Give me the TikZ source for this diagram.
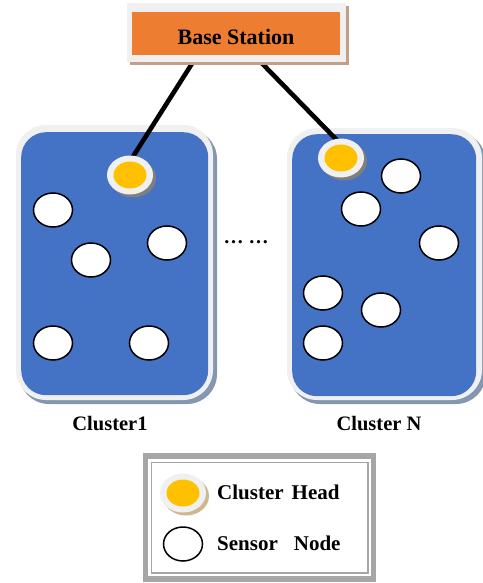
\documentclass[tikz,border=0pt]{standalone}
\usepackage{fontspec}
\setmainfont{Liberation Serif}
\usetikzlibrary{shapes.geometric,calc}
\pgfdeclarelayer{bg}
\pgfdeclarelayer{mid}
\pgfsetlayers{bg,mid,main}
\definecolor{bsorange}{HTML}{ED7D31}
\definecolor{bsshadow}{HTML}{C49E86}
\definecolor{framegray}{HTML}{F0F0F0}
\definecolor{clblue}{HTML}{4472C4}
\definecolor{clshadow}{HTML}{8496B0}
\definecolor{headyellow}{HTML}{FFC000}
\definecolor{headshadow}{HTML}{7F7F7F}
\definecolor{legshadow}{HTML}{CDB98E}
\definecolor{leggray}{HTML}{A6A6A6}
\tikzset{
  sensor/.style={ellipse, draw=black, line width=1.5pt, fill=white,
    minimum width=39pt, minimum height=34pt, inner sep=0pt},
  headcore/.style={ellipse, fill=headyellow, minimum width=33pt,
    minimum height=27pt, inner sep=0pt},
  link/.style={line width=4.6pt, black},
  lbl/.style={font=\fontsize{20.5}{24}\selectfont\bfseries, anchor=base, inner sep=0pt},
  leglbl/.style={font=\fontsize{21}{25}\selectfont\bfseries, anchor=base west, inner sep=0pt},
  cluster/.style={rectangle, rounded corners=25pt, fill=clblue, anchor=north west, inner sep=0pt}
}
\newcommand\clusterhead[3]{%
  \fill[#3] ($(#2)+(3,3)$) ellipse [x radius=23, y radius=19.5];
  \fill[framegray] (#2) ellipse [x radius=23, y radius=19.5];
  \node[headcore] (#1) at (#2) {};
}
\begin{document}
\begin{tikzpicture}[x=1pt,y=-1pt]
\useasboundingbox (0,0) rectangle (482,583);

% clusters
\begin{pgfonlayer}{bg}
\fill[white] (0,0) rectangle (482,583);
\fill[clshadow, rounded corners=30] (19,129) rectangle (217,404);
\fill[framegray, rounded corners=30] (16,125) rectangle (213,400);
\node[cluster, minimum width=187pt, minimum height=263pt] (c1) at (21,132) {};
\fill[clshadow, rounded corners=30] (290,132) rectangle (486,404);
\fill[framegray, rounded corners=30] (287,128) rectangle (482,400);
\node[cluster, minimum width=184pt, minimum height=262pt] (cN) at (292,134) {};
\end{pgfonlayer}

% base station
\fill[bsshadow] (130,6) rectangle (349,65);
\fill[framegray] (127,3) rectangle (346,62);
\node[fill=bsorange, minimum width=208pt, minimum height=43pt, inner sep=0pt,
  anchor=north west] (bs) at (132,12) {};
\node[font=\fontsize{22}{26}\selectfont\bfseries, anchor=base, inner sep=0pt]
  (bstext) at (236,45) {Base Station};

% cluster heads
\clusterhead{ch1}{130,175}{headshadow}
\clusterhead{chN}{341,158}{headshadow}

% links
\begin{pgfonlayer}{mid}
\draw[link] ($(bs.south)+(-39,0)$) -- (ch1.north);
\draw[link] ($(bs.south)+(18,0)$) -- (chN.north);
\end{pgfonlayer}

% sensors cluster 1
\node[sensor] (s11) at (53,210) {};
\node[sensor] (s12) at (91,260) {};
\node[sensor] (s13) at (167,243) {};
\node[sensor] (s14) at (53,343) {};
\node[sensor] (s15) at (149,343) {};

% sensors cluster N
\node[sensor] (sN1) at (401,176) {};
\node[sensor] (sN2) at (361,209) {};
\node[sensor] (sN3) at (439,243) {};
\node[sensor] (sN4) at (323,293) {};
\node[sensor] (sN5) at (381,310) {};
\node[sensor] (sN6) at (323,343) {};

% dots
\node[font=\fontsize{20}{24}\selectfont\bfseries, anchor=base, inner sep=0pt] (dots) at (246,243) {…\hspace{5pt}…};

% labels
\node[lbl] (l1) at (110,430) {Cluster1};
\node[lbl] (lN) at (379,430) {Cluster N};

% legend
\fill[leggray] (143,453) rectangle (376,582);
\fill[white] (148,459) rectangle (371,576);
\draw[leggray, line width=1.3pt] (151.5,462.5) rectangle (368,573);
\clusterhead{lh}{183,493}{legshadow}
\node[sensor] (ls) at (183,544) {};
\node[leglbl] (lht) at (217,499) {Cluster\hspace{8pt}Head};
\node[leglbl] (lst) at (217,550) {Sensor\hspace{16pt}Node};
\end{tikzpicture}
\end{document}
